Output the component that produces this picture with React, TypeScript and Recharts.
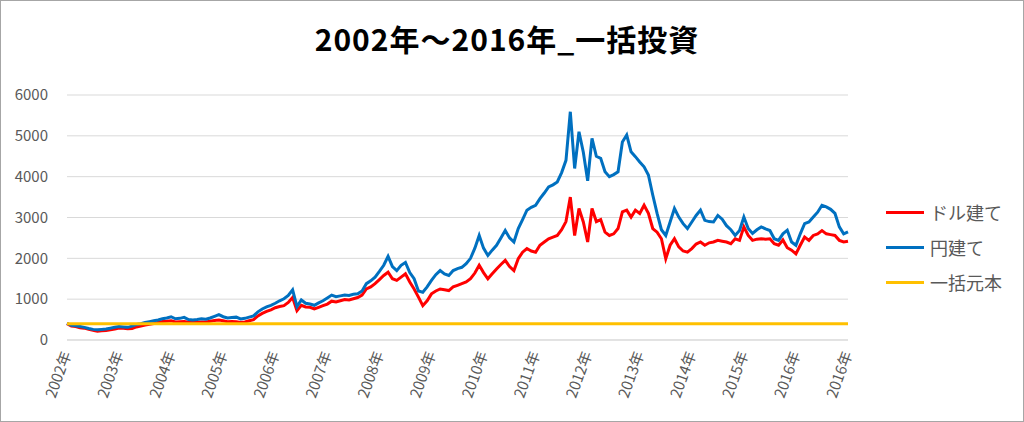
import { LineChart, Line, XAxis, YAxis, CartesianGrid } from 'recharts';

// 月ごとの値（2002年1月〜2016年末、グラフから読み取り）
const YEAR_LABELS = [
  '2002年', '2003年', '2004年', '2005年', '2006年', '2007年', '2008年', '2009年',
  '2010年', '2011年', '2012年', '2013年', '2014年', '2015年', '2016年', '2016年',
];

const USD_VALUES = [
  400, 340, 330, 300, 290, 260, 240, 215, 225, 230, 250, 270,
  295, 290, 275, 280, 320, 340, 365, 385, 405, 430, 455, 460,
  470, 440, 450, 455, 435, 430, 435, 440, 440, 460, 480, 490,
  470, 450, 455, 450, 432, 440, 470, 500, 590, 650, 700, 740,
  790, 820, 840, 920, 1040, 720, 850, 810, 800, 760, 800, 840,
  880, 950, 930, 960, 990, 980, 1010, 1040, 1100, 1250, 1300, 1380,
  1480, 1580, 1660, 1500, 1460, 1540, 1620, 1420, 1250, 1050, 840, 960,
  1130, 1200, 1250, 1230, 1210, 1300, 1340, 1380, 1420, 1500, 1640, 1830,
  1650, 1500, 1620, 1740, 1850, 1950, 1800, 1700, 1990, 2150, 2240, 2180,
  2150, 2320, 2400, 2480, 2520, 2560, 2700, 2900, 3500, 2560, 3220, 2890,
  2400, 3220, 2900, 2950, 2640, 2560, 2600, 2730, 3140, 3180, 3010, 3180,
  3100, 3300, 3100, 2730, 2640, 2480, 1990, 2320, 2480, 2280, 2180, 2150,
  2240, 2350, 2400, 2320, 2380, 2400, 2440, 2420, 2400, 2360, 2480, 2440,
  2770, 2560, 2440, 2470, 2480, 2470, 2480, 2360, 2320, 2450, 2260, 2200,
  2110, 2320, 2520, 2440, 2560, 2600, 2680, 2600, 2580, 2560, 2440, 2400,
  2420,
];

const JPY_VALUES = [
  410, 360, 350, 330, 310, 280, 260, 250, 260, 270, 290, 310,
  330, 320, 310, 340, 380, 400, 430, 450, 470, 490, 520, 540,
  570, 520, 530, 555, 500, 490, 500, 520, 510, 540, 580, 620,
  570, 540, 550, 560, 515, 530, 560, 590, 690, 760, 810, 850,
  900, 960, 1010, 1090, 1230, 820, 980, 900, 880, 850, 910, 960,
  1030, 1100, 1060, 1080, 1100, 1090, 1120, 1130, 1200, 1380, 1450, 1540,
  1680, 1830, 2050, 1800, 1700, 1830, 1900, 1650, 1500, 1200, 1170, 1300,
  1460, 1600, 1700, 1620, 1580, 1700, 1750, 1780, 1870, 2000, 2250, 2560,
  2250, 2070, 2200, 2320, 2500, 2680, 2500, 2400, 2730, 2950, 3180, 3250,
  3300, 3460, 3600, 3750, 3800, 3870, 4100, 4400, 5590, 4200, 5100, 4600,
  3900, 4940, 4500, 4450, 4120, 4000, 4050, 4120, 4850, 5020, 4610, 4490,
  4360, 4240, 4040, 3550, 3100, 2700, 2560, 2890, 3220, 3010, 2850, 2730,
  2890, 3050, 3180, 2930, 2900, 2890, 3050, 2960, 2800, 2700, 2560, 2680,
  3010, 2730, 2610, 2700, 2770, 2720, 2680, 2480, 2440, 2600, 2690, 2400,
  2320, 2600, 2850, 2890, 3010, 3130, 3300, 3260, 3200, 3100, 2770, 2600,
  2650,
];

const PRINCIPAL = 400;
const Y_TICKS = [0, 1000, 2000, 3000, 4000, 5000, 6000];

const data = USD_VALUES.map((usd, i) => ({
  t: i,
  usd,
  jpy: JPY_VALUES[i],
  principal: PRINCIPAL,
}));
const X_TICKS = YEAR_LABELS.map((_, i) => i * 12);

const LEGEND = [
  { name: 'ドル建て', color: '#ff0000' },
  { name: '円建て', color: '#0070c0' },
  { name: '一括元本', color: '#ffc000' },
];

function YearTick({ x, y, payload }: any) {
  return (
    <g transform={`translate(${x},${y})`}>
      <text x={0} y={0} dy={5} textAnchor="end" transform="rotate(-70)" fill="#595959" fontSize={15}>
        {YEAR_LABELS[Math.round(payload.value / 12)]}
      </text>
    </g>
  );
}

export default function App() {
  return (
    <div
      style={{
        position: 'absolute',
        left: 0,
        top: 0,
        width: 1024,
        height: 422,
        background: '#fff',
        fontFamily: '"Noto Sans CJK JP", "Noto Sans", sans-serif',
      }}
    >
      <div
        style={{
          position: 'absolute',
          left: 0,
          top: 0,
          width: 1024,
          height: 422,
          boxSizing: 'border-box',
          border: '1px solid #a6a6a6',
        }}
      />
      <div
        style={{
          position: 'absolute',
          left: 0,
          width: 1014,
          top: 18,
          textAlign: 'center',
          fontSize: 30,
          letterSpacing: 1,
          fontWeight: 700,
          color: '#000',
          lineHeight: '40px',
        }}
      >
        2002年～2016年_一括投資
      </div>
      <div style={{ position: 'absolute', left: 0, top: 0 }}>
        <LineChart width={1024} height={422} data={data} margin={{ top: 95, right: 176, bottom: 0, left: 0 }}>
          <CartesianGrid vertical={false} stroke="#d9d9d9" strokeWidth={1} />
          <XAxis
            dataKey="t"
            type="number"
            domain={[0, 180]}
            ticks={X_TICKS}
            interval={0}
            height={82}
            tickSize={0}
            tickMargin={12}
            axisLine={{ stroke: '#d9d9d9' }}
            tickLine={false}
            tick={<YearTick />}
          />
          <YAxis
            domain={[0, 6000]}
            ticks={Y_TICKS}
            width={67}
            tickSize={0}
            tickMargin={19}
            axisLine={false}
            tickLine={false}
            tick={{ fill: '#595959', fontSize: 15 }}
          />
          <Line dataKey="usd" stroke="#ff0000" strokeWidth={3} dot={false} isAnimationActive={false} />
          <Line dataKey="jpy" stroke="#0070c0" strokeWidth={3} dot={false} isAnimationActive={false} />
          <Line dataKey="principal" stroke="#ffc000" strokeWidth={3} dot={false} isAnimationActive={false} />
        </LineChart>
      </div>
      {LEGEND.map((item, i) => (
        <div
          key={item.name}
          style={{
            position: 'absolute',
            left: 886,
            top: 212 + i * 35 - 13,
            height: 26,
            display: 'flex',
            alignItems: 'center',
          }}
        >
          <div style={{ width: 38, height: 3, background: item.color }} />
          <span style={{ marginLeft: 6, fontSize: 18, color: '#595959', lineHeight: '26px' }}>{item.name}</span>
        </div>
      ))}
    </div>
  );
}
